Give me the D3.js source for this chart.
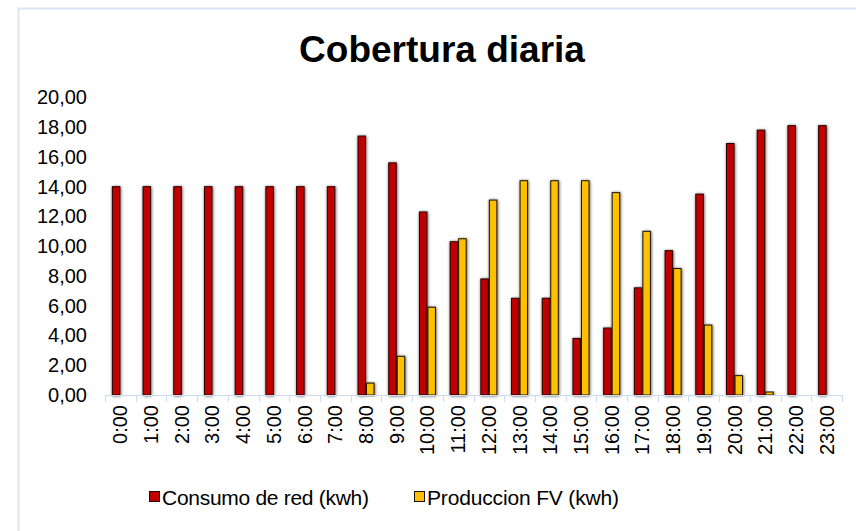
<!DOCTYPE html>
<html>
<head>
<meta charset="utf-8">
<script src="https://cdn.jsdelivr.net/npm/d3@7"></script>
<style>
  body { margin: 0; background: #fff; }
  svg { display: block; font-family: 'Liberation Sans', Arial, sans-serif; }
</style>
</head>
<body>
<div id="chart"></div>
<script>
const hours = ['0:00','1:00','2:00','3:00','4:00','5:00','6:00','7:00','8:00','9:00','10:00','11:00',
  '12:00','13:00','14:00','15:00','16:00','17:00','18:00','19:00','20:00','21:00','22:00','23:00'];
const consumoRed = [14.0,14.0,14.0,14.0,14.0,14.0,14.0,14.0,17.4,15.6,12.3,10.3,
  7.8,6.5,6.5,3.8,4.5,7.2,9.7,13.5,16.9,17.8,18.1,18.1];
const produccionFV = [0,0,0,0,0,0,0,0,0.8,2.6,5.9,10.5,
  13.1,14.4,14.4,14.4,13.6,11.0,8.5,4.7,1.3,0.2,0,0];
const yTicks = [0,2,4,6,8,10,12,14,16,18,20];
const seriesNames = ['Consumo de red (kwh)', 'Produccion FV (kwh)'];
const seriesColors = ['#c00000', '#ffc000'];

const width = 856, height = 531;
const plot = { left: 105, right: 842, top: 97.4, bottom: 395 };

const svg = d3.select('#chart').append('svg')
  .attr('width', width)
  .attr('height', height);

const defs = svg.append('defs');
const shadow = defs.append('filter').attr('id', 'shadow')
  .attr('x', '-60%').attr('y', '-10%').attr('width', '220%').attr('height', '120%');
shadow.append('feDropShadow')
  .attr('dx', 0.5).attr('dy', 0.5)
  .attr('stdDeviation', 1.6)
  .attr('flood-color', '#000')
  .attr('flood-opacity', 0.7);

// outer frame
svg.append('path')
  .attr('d', `M18.5,${height}V8.5H${width}`)
  .attr('fill', 'none')
  .attr('stroke', '#d9e5f4')
  .attr('stroke-width', 2);

svg.append('text')
  .attr('x', 442)
  .attr('y', 62)
  .attr('text-anchor', 'middle')
  .attr('font-size', 37)
  .attr('font-weight', 'bold')
  .attr('fill', '#000')
  .text('Cobertura diaria');

const x0 = d3.scaleBand()
  .domain(hours)
  .range([plot.left, plot.right])
  .paddingInner(0.446)
  .paddingOuter(0.223);
const x1 = d3.scaleBand()
  .domain([0, 1])
  .range([0, x0.bandwidth()]);
const y = d3.scaleLinear()
  .domain([0, 20])
  .range([plot.bottom, plot.top]);

const fmt = (d) => d3.format('.2f')(d).replace('.', ',');

// y labels
svg.append('g')
  .attr('transform', `translate(${plot.left},0)`)
  .call(d3.axisLeft(y).tickValues(yTicks).tickFormat(fmt).tickSize(0).tickPadding(18))
  .call((g) => g.select('.domain').remove())
  .call((g) => g.selectAll('text')
    .attr('font-size', 20)
    .attr('font-family', "'Liberation Sans', Arial, sans-serif")
    .attr('fill', '#000'));

// bars
const groups = svg.append('g')
  .selectAll('g')
  .data(hours)
  .join('g')
  .attr('transform', (d) => `translate(${x0(d)},0)`);

groups.selectAll('rect')
  .data((d, i) => [consumoRed[i], produccionFV[i]].map((v, s) => ({ v, s })))
  .join('rect')
  .filter((d) => d.v > 0)
  .attr('x', (d) => x1(d.s) + 0.5)
  .attr('width', x1.bandwidth() - 1)
  .attr('y', (d) => y(d.v))
  .attr('height', (d) => y(0) - y(d.v))
  .attr('fill', (d) => seriesColors[d.s])
  .attr('stroke', (d) => d.s === 0 ? '#2a0505' : '#1a1400')
  .attr('stroke-width', 1)
  .attr('filter', 'url(#shadow)');

// x axis line and boundary ticks
const axis = svg.append('g').attr('stroke', '#cbdaee').attr('stroke-width', 1);
axis.append('line')
  .attr('x1', plot.left).attr('x2', plot.right)
  .attr('y1', plot.bottom + 0.5).attr('y2', plot.bottom + 0.5);
axis.selectAll('.tick')
  .data(d3.range(hours.length + 1))
  .join('line')
  .attr('class', 'tick')
  .attr('x1', (i) => Math.round(plot.left + i * x0.step()) + 0.5)
  .attr('x2', (i) => Math.round(plot.left + i * x0.step()) + 0.5)
  .attr('y1', plot.bottom)
  .attr('y2', plot.bottom + 7);

// x labels
svg.append('g')
  .selectAll('text')
  .data(hours)
  .join('text')
  .attr('transform', (d) => `translate(${x0(d) + x0.bandwidth() / 2},405) rotate(-90)`)
  .attr('text-anchor', 'end')
  .attr('dy', '0.35em')
  .attr('font-size', 20)
  .attr('fill', '#000')
  .text((d) => d);

// legend
const legendItems = [
  { name: seriesNames[0], color: seriesColors[0], stroke: '#2a0505', x: 149 },
  { name: seriesNames[1], color: seriesColors[1], stroke: '#1a1400', x: 414 },
];
const legend = svg.append('g')
  .selectAll('g')
  .data(legendItems)
  .join('g')
  .attr('transform', (d) => `translate(${d.x},491)`);
legend.append('rect')
  .attr('x', 0.5).attr('y', 0.5)
  .attr('width', 10).attr('height', 10)
  .attr('fill', (d) => d.color)
  .attr('stroke', (d) => d.stroke);
legend.append('text')
  .attr('x', 13)
  .attr('y', 13.5)
  .attr('font-size', 21)
  .attr('textLength', (d, i) => i === 0 ? 207 : 192)
  .attr('fill', '#000')
  .text((d) => d.name);
</script>
</body>
</html>
